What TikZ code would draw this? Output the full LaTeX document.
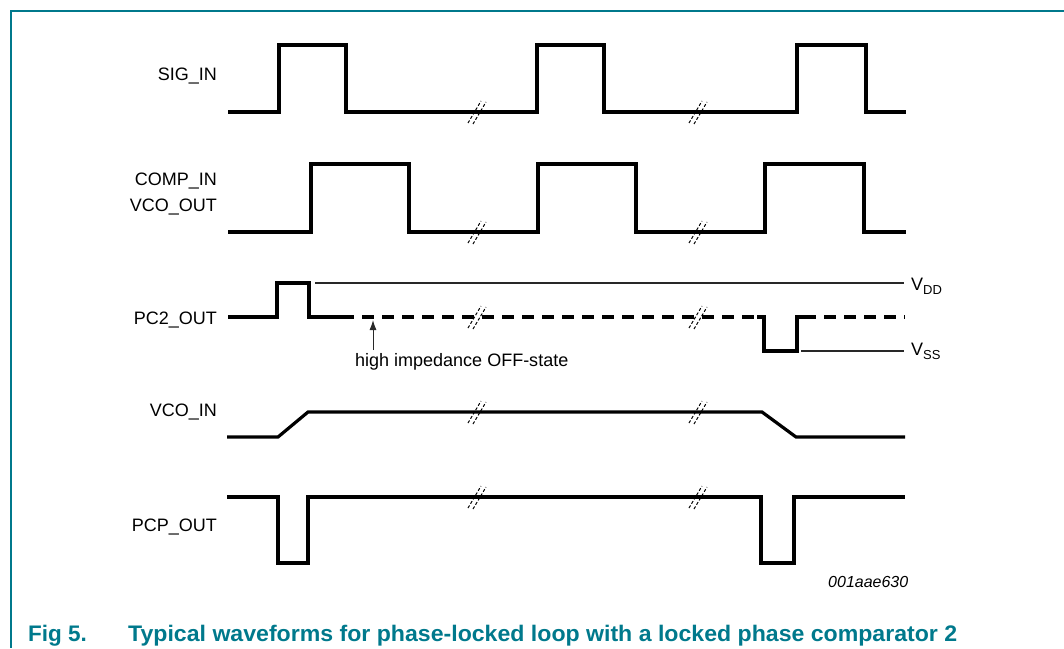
\documentclass[tikz,border=0pt]{standalone}
\usepackage{fontspec}
\setmainfont{Liberation Sans}
\usetikzlibrary{arrows.meta}
\definecolor{nxp}{RGB}{0,121,140}
\definecolor{thingray}{RGB}{40,40,40}
\newcommand\brkat[2]{%
  \draw[brkmark] (#1,#2) ++(-9,11) -- ++(13,-22);
  \draw[brkmark] (#1,#2) ++(-4,12) -- ++(13,-22);}
\begin{document}
\begin{tikzpicture}[x=1pt,y=-1pt,
  wave/.style={line width=3.2pt, line join=miter, line cap=butt},
  thinl/.style={line width=1.1pt, draw=thingray},
  lbl/.style={font=\fontsize{18}{22}\selectfont, inner sep=0pt, anchor=base east},
  txt/.style={font=\fontsize{18}{22}\selectfont, inner sep=0pt, anchor=base west},
  brkmark/.style={line width=1pt, dash pattern=on 3pt off 2pt},
  captxt/.style={font=\fontsize{22.5}{27}\selectfont\bfseries, text=nxp, inner sep=0pt, anchor=base west}]
\useasboundingbox (0,0) rectangle (1064,648);
% frame
\draw[nxp, line width=2pt] (1064,11) -- (11,11) -- (11,648);

% labels
\node[lbl] (sig) at (217,80) {SIG\_IN};
\node[lbl] (comp) at (217,185) {COMP\_IN};
\node[lbl] (vco) at (217,211.5) {VCO\_OUT};
\node[lbl] (pc2) at (217,324) {PC2\_OUT};
\node[lbl] (vcoin) at (217,416) {VCO\_IN};
\node[lbl] (pcp) at (217,531) {PCP\_OUT};

% SIG_IN
\draw[wave] (228,112) -- (279,112) -- (279,45) -- (346,45) -- (346,112) -- (537,112) -- (537,45) -- (604,45) -- (604,112) -- (797,112) -- (797,45) -- (866,45) -- (866,112) -- (906,112);
\brkat{477}{112}\brkat{698}{112}

% COMP_IN / VCO_OUT
\draw[wave] (228,232) -- (311,232) -- (311,164) -- (409,164) -- (409,232) -- (538,232) -- (538,164) -- (636,164) -- (636,232) -- (765,232) -- (765,164) -- (864,164) -- (864,232) -- (906,232);
\brkat{477}{232}\brkat{698}{232}

% PC2_OUT
\draw[thinl] (315,283) -- (904,283);
\draw[thinl] (801,351) -- (904,351);
\draw[wave] (228,317) -- (277,317) -- (277,283) -- (309,283) -- (309,317) -- (342,317);
\draw[wave, dash pattern=on 12pt off 8pt] (342,317) -- (758,317);
\draw[wave] (757,317) -- (764,317) -- (764,351) -- (797,351) -- (797,317) -- (804,317);
\draw[wave, dash pattern=on 12pt off 8pt] (804,317) -- (905,317);
\brkat{477}{317}\brkat{698}{317}
\node[txt] (vdd) at (911,290) {V\raisebox{-4pt}{\fontsize{13}{13}\selectfont DD}};
\node[txt] (vss) at (911,355) {V\raisebox{-4pt}{\fontsize{13}{13}\selectfont SS}};
\node[txt] (hz) at (355,366) {high impedance OFF-state};
\coordinate (hztail) at (373,350);
\coordinate (hztip) at (373,320);
\draw[line width=1pt, draw=thingray, -{Latex[length=10pt,width=7pt]}] (hztail) -- (hztip);

% VCO_IN
\draw[wave] (227,437) -- (278,437) -- (308,412) -- (762,412) -- (796,437) -- (905,437);
\brkat{477}{412}\brkat{698}{412}

% PCP_OUT
\draw[wave] (227,497) -- (278,497) -- (278,563) -- (308,563) -- (308,497) -- (761,497) -- (761,563) -- (794,563) -- (794,497) -- (905,497);
\brkat{477}{497}\brkat{698}{497}

\node[inner sep=0pt, anchor=base west, font=\fontsize{16}{19}\selectfont\itshape] (code) at (828,587) {001aae630};

% caption
\node[captxt] (fig) at (28,641) {Fig 5.};
\node[captxt] (cap) at (128,641) {\resizebox{829pt}{\height}{Typical waveforms for phase-locked loop with a locked phase comparator 2}};
\end{tikzpicture}
\end{document}
